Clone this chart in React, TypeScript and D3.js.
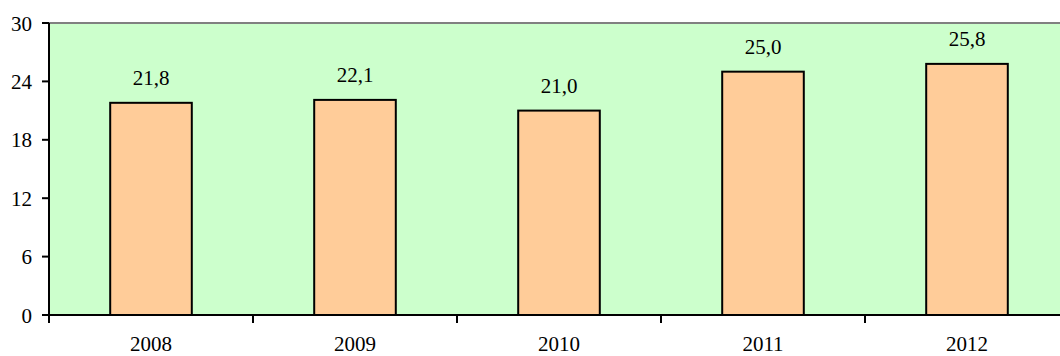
import React from "react";
import * as d3 from "d3";

const categories = ["2008", "2009", "2010", "2011", "2012"];
const values = [21.8, 22.1, 21.0, 25.0, 25.8];
const yTicks = [0, 6, 12, 18, 24, 30];

export default function App() {
  const W = 1060, H = 356;
  const left = 49, top = 23, bottom = 315;
  const bandW = 204;
  const x = d3.scaleBand<string>().domain(categories).range([left, left + bandW * categories.length]).paddingInner(0.6).paddingOuter(0.3);
  const y = d3.scaleLinear().domain([0, 30]).range([bottom, top]);
  const xb = d3.scaleBand<string>().domain(categories).range([left, left + bandW * categories.length]);
  const font = "'Liberation Serif', 'Times New Roman', serif";
  const fs = 21;
  return (
    <svg width={W} height={H} style={{ position: "absolute", left: 0, top: 0 }} fontFamily={font}>
      <rect x={left} y={top} width={W - left} height={bottom - top} fill="#CCFFCC" />
      <line x1={left} x2={W} y1={top} y2={top} stroke="#808080" strokeWidth={2} />
      {categories.map((c, i) => (
        <g key={c}>
          <rect x={x(c)!} y={y(values[i])} width={x.bandwidth()} height={bottom - y(values[i])} fill="#FFCC99" stroke="#000" strokeWidth={2} />
          <text x={x(c)! + x.bandwidth() / 2} y={y(values[i]) - 18} textAnchor="middle" fontSize={fs} fill="#000">
            {values[i].toFixed(1).replace(".", ",")}
          </text>
          <text x={xb(c)! + xb.bandwidth() / 2} y={351} textAnchor="middle" fontSize={fs} fill="#000">{c}</text>
        </g>
      ))}
      {categories.map((c) => (
        <line key={"t" + c} x1={xb(c)!} x2={xb(c)!} y1={bottom} y2={bottom + 8} stroke="#000" strokeWidth={2} />
      ))}
      <line x1={left} x2={W} y1={bottom} y2={bottom} stroke="#000" strokeWidth={2} />
      <line x1={left} x2={left} y1={top} y2={bottom + 8} stroke="#000" strokeWidth={2} />
      {yTicks.map((t) => (
        <g key={t}>
          <line x1={left - 7} x2={left} y1={y(t)} y2={y(t)} stroke="#000" strokeWidth={2} />
          <text x={32} y={y(t) + 7.5} textAnchor="end" fontSize={fs} fill="#000">{t}</text>
        </g>
      ))}
    </svg>
  );
}
